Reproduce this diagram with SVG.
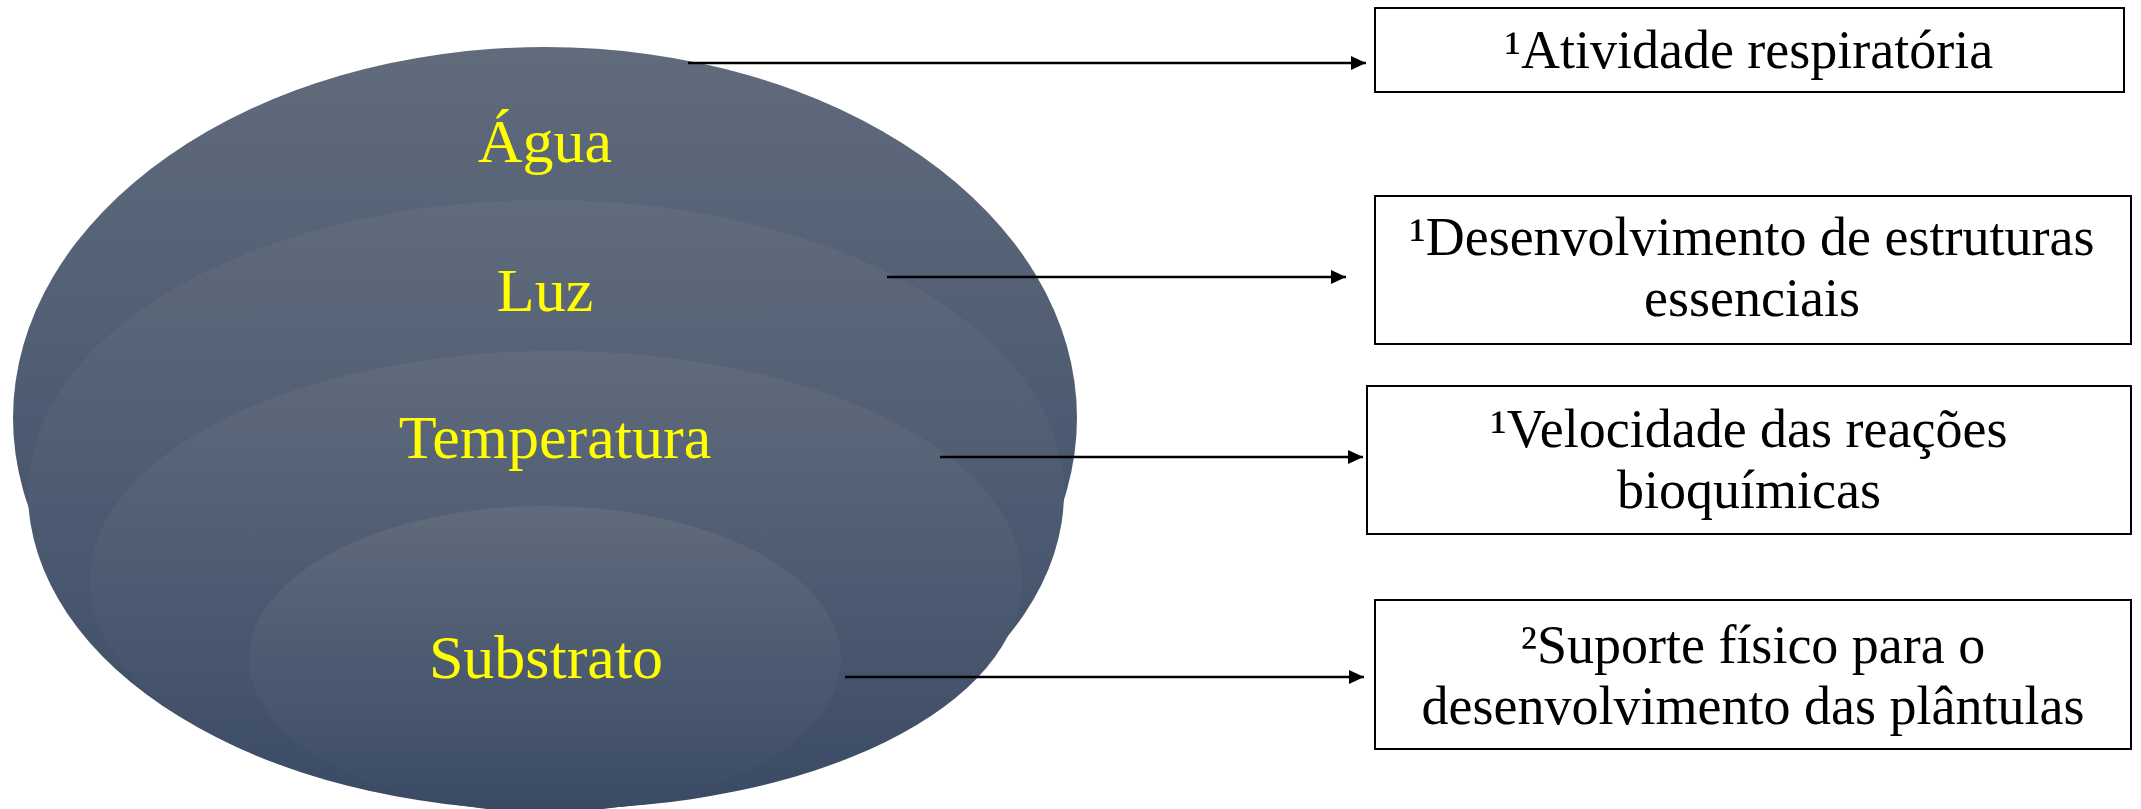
<svg xmlns="http://www.w3.org/2000/svg" width="2141" height="809" viewBox="0 0 2141 809">
  <defs>
    <linearGradient id="layerFill" x1="0" y1="0" x2="0" y2="1">
      <stop offset="0" stop-color="#606b7b"/>
      <stop offset="0.5" stop-color="#4d5b72"/>
      <stop offset="1" stop-color="#3b4a64"/>
    </linearGradient>
    <marker id="arrowHead" markerUnits="userSpaceOnUse" markerWidth="16" markerHeight="14" refX="15" refY="7" orient="auto">
      <path d="M0,0 L15,7 L0,14 Z" fill="#000"/>
    </marker>
    <style>
      .layer { fill: url(#layerFill); }
      .layerLabel { font-family: "Liberation Serif", "Times New Roman", serif; font-size: 62px; fill: #ffff00; text-anchor: middle; }
      .box { fill: #fff; stroke: #000; stroke-width: 2; }
      .boxText { font-family: "Liberation Serif", "Times New Roman", serif; font-size: 54px; fill: #000; text-anchor: middle; }
      .link { stroke: #000; stroke-width: 2.5; fill: none; marker-end: url(#arrowHead); }
    </style>
  </defs>

  <rect width="2141" height="809" fill="#fff"/>

  <!-- stacked layers, outermost first -->
  <g id="agua">
    <ellipse class="layer" cx="545" cy="418" rx="532" ry="371"/>
    <text class="layerLabel" x="545" y="162">Água</text>
  </g>
  <g id="luz">
    <!-- slightly deeper lower half -->
    <path class="layer" d="M28,492 A518,292 0 0 1 1064,492 A518,318 0 0 1 28,492 Z"/>
    <text class="layerLabel" x="545" y="311">Luz</text>
  </g>
  <g id="temperatura">
    <ellipse class="layer" cx="556" cy="580" rx="466" ry="229"/>
    <text class="layerLabel" x="555" y="458">Temperatura</text>
  </g>
  <g id="substrato">
    <ellipse class="layer" cx="545" cy="659" rx="296" ry="153"/>
    <text class="layerLabel" x="546" y="678">Substrato</text>
  </g>

  <!-- connectors from each layer to its description -->
  <g id="connectors">
    <line class="link" x1="688" y1="63" x2="1366" y2="63"/>
    <line class="link" x1="887" y1="277" x2="1346" y2="277"/>
    <line class="link" x1="940" y1="457" x2="1363" y2="457"/>
    <line class="link" x1="845" y1="677" x2="1364" y2="677"/>
  </g>

  <!-- descriptions -->
  <g id="box-respiratoria">
    <rect class="box" x="1375" y="8" width="749" height="84"/>
    <text class="boxText" x="1749" y="68">¹Atividade respiratória</text>
  </g>
  <g id="box-estruturas">
    <rect class="box" x="1375" y="196" width="756" height="148"/>
    <text class="boxText" x="1752" y="255">¹Desenvolvimento de estruturas</text>
    <text class="boxText" x="1752" y="316">essenciais</text>
  </g>
  <g id="box-reacoes">
    <rect class="box" x="1367" y="386" width="764" height="148"/>
    <text class="boxText" x="1749" y="447">¹Velocidade das reações</text>
    <text class="boxText" x="1749" y="508">bioquímicas</text>
  </g>
  <g id="box-suporte">
    <rect class="box" x="1375" y="600" width="756" height="149"/>
    <text class="boxText" x="1753" y="663">²Suporte físico para o</text>
    <text class="boxText" x="1753" y="724">desenvolvimento das plântulas</text>
  </g>
</svg>
